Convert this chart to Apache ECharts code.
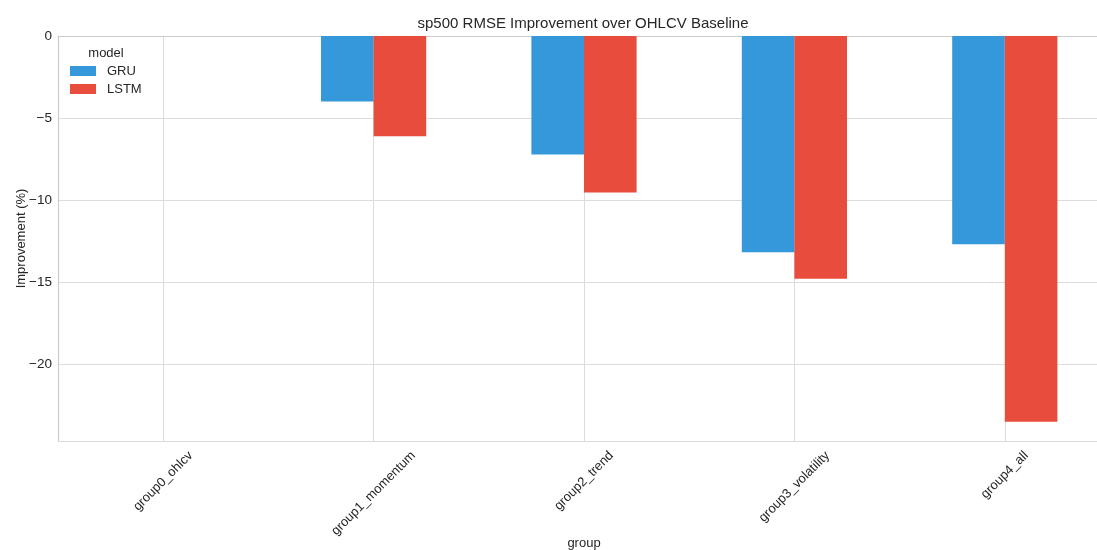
<!DOCTYPE html>
<html>
<head>
<meta charset="utf-8">
<script src="https://cdn.jsdelivr.net/npm/echarts@6/dist/echarts.min.js"></script>
<style>html,body{margin:0;padding:0;background:#fff}#chart{width:1097px;height:550px}</style>
</head>
<body>
<div id="chart"></div>
<script>
const categories = ['group0_ohlcv', 'group1_momentum', 'group2_trend', 'group3_volatility', 'group4_all'];
const gruValues = [0, -4.0, -7.23, -13.19, -12.70];
const lstmValues = [0, -6.12, -9.55, -14.80, -23.52];
const seriesNames = ['GRU', 'LSTM'];
const titleText = 'sp500 RMSE Improvement over OHLCV Baseline';
const legendTitle = 'model';
const xName = 'group';
const yName = 'Improvement (%)';

const FONT = "'Liberation Sans', Arial, sans-serif";
const TXT = '#262626';
const GRID = '#dcdcdc';
const LBL = 13;

// measure label widths to centre rotated labels like matplotlib (ha=center)
const ctx = document.createElement('canvas').getContext('2d');
ctx.font = LBL + "px 'Liberation Sans'";
const rich = {};
categories.forEach((c, i) => {
  const L = ctx.measureText(c).width;
  const p = (L + 10) / 2;
  rich['l' + i] = {padding: [p, p, 0, 0], fontSize: LBL, fontFamily: FONT, color: TXT};
});

const chart = echarts.init(document.getElementById('chart'));
chart.setOption({
  animation: false,
  backgroundColor: '#fff',
  title: [
    {text: titleText, left: 583, top: 16, padding: 0, textAlign: 'center',
     textStyle: {fontSize: 15, fontWeight: 'normal', color: TXT, fontFamily: FONT}},
    {text: legendTitle, left: 106, top: 47, padding: 0, textAlign: 'center',
     textStyle: {fontSize: 13, fontWeight: 'normal', color: TXT, fontFamily: FONT}}
  ],
  legend: {
    orient: 'vertical', left: 70, top: 64, padding: 0, itemWidth: 26, itemHeight: 10, itemGap: 4,
    icon: 'rect', data: seriesNames,
    textStyle: {fontSize: 13, color: TXT, fontFamily: FONT, lineHeight: 14, padding: [0, 0, 0, 6]}
  },
  grid: {left: 58, right: -13, top: 36, bottom: 109, containLabel: false, outerBoundsMode: 'none'},
  xAxis: {
    type: 'category', data: categories,
    name: xName, nameLocation: 'middle', nameGap: 96, nameMoveOverlap: false,
    nameTextStyle: {fontSize: 13, color: TXT, fontFamily: FONT},
    axisLine: {show: true, lineStyle: {color: '#cccccc', width: 1.2}},
    axisTick: {show: false},
    splitLine: {show: true, alignWithLabel: true, lineStyle: {color: GRID, width: 1}},
    axisLabel: {
      interval: 0, rotate: 45, margin: 9, align: 'center', verticalAlign: 'middle',
      formatter: (v, i) => '{l' + i + '|' + v + '}', rich: rich,
      fontSize: LBL, color: TXT, fontFamily: FONT
    }
  },
  yAxis: {
    type: 'value', min: -24.7, max: 0, splitNumber: 5,
    name: yName, nameLocation: 'middle', nameGap: 30, nameMoveOverlap: false,
    nameTextStyle: {fontSize: 13, color: TXT, fontFamily: FONT},
    axisLine: {show: true, lineStyle: {color: '#cccccc', width: 1.2}},
    axisTick: {show: false},
    splitLine: {show: true, lineStyle: {color: GRID, width: 1}},
    axisLabel: {
      showMinLabel: false, margin: 6, fontSize: 13.5, color: TXT, fontFamily: FONT,
      formatter: v => String(v).replace('-', '\u2212')
    }
  },
  series: [
    {name: seriesNames[0], type: 'bar', data: gruValues, barWidth: '25%', barGap: '0%',
     itemStyle: {color: '#3498db'}},
    {name: seriesNames[1], type: 'bar', data: lstmValues, barWidth: '25%', barGap: '0%',
     itemStyle: {color: '#e74c3c'}}
  ]
});
</script>
</body>
</html>
